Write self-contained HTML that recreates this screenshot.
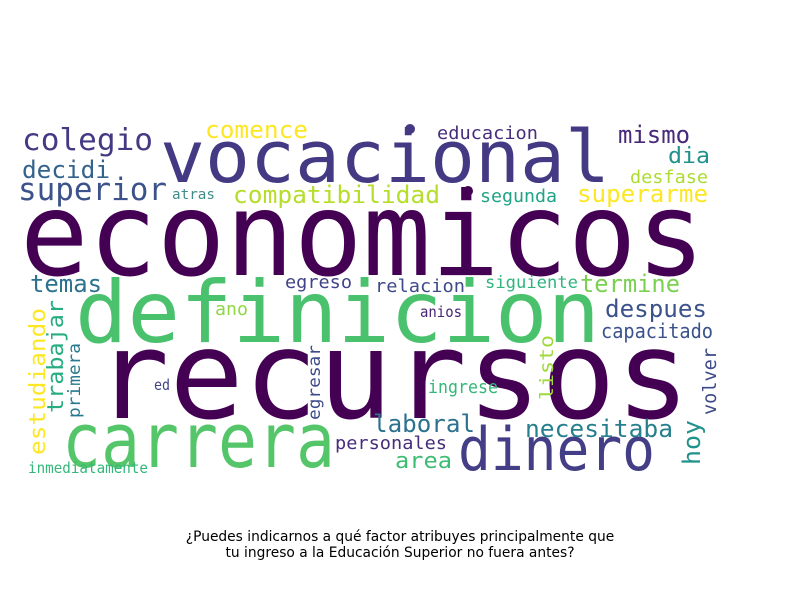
<!DOCTYPE html>
<html><head><meta charset="utf-8"><style>
html,body{margin:0;padding:0;background:#fff;}
svg{display:block;}
.w{font-family:"DejaVu Sans Mono","Liberation Mono",monospace;}
.t{font-family:"DejaVu Sans","Liberation Sans",sans-serif;font-size:13.8px;fill:#000;}
</style></head><body>
<svg width="800" height="600" viewBox="0 0 800 600" xmlns="http://www.w3.org/2000/svg">
<rect width="800" height="600" fill="#fff"/>
<g id="cloud"></g>
<text class="t" x="400" y="541" text-anchor="middle">¿Puedes indicarnos a qué factor atribuyes principalmente que</text>
<text class="t" x="400" y="557" text-anchor="middle">tu ingreso a la Educación Superior no fuera antes?</text>
</svg>
<script>
const words=["economicos","vocacional","definicion","recursos","carrera","dinero","colegio","superior","decidi","comence","atras","compatibilidad","educacion","mismo","dia","desfase","superarme","segunda","temas","egreso","relacion","siguiente","termine","despues","anios","ano","capacitado","ed","ingrese","laboral","necesitaba","personales","area","inmediatamente","estudiando","trabajar","primera","egresar","listo","volver","hoy"];
const fontSizes=[116,72,86,122,76,60,30,31,24,24,14,24,18,24,22,18,24,18,24,18,18,17,24,24,15,18,20,15,18,24,24,18,22,15,22,22,17,17,19,19,24];
const colors=["#440154","#443983","#4ac16d","#440154","#54c568","#433e85","#443a83","#3b528b","#33638d","#fde725","#3f8e8c","#b5de2b","#472d7b","#482878","#21918c","#addc30","#fde725","#20a386","#2c728e","#414487","#3e4a89","#2fb47c","#7ad151","#3b528b","#482475","#8fd744","#3b528b","#414487","#35b779","#2c728e","#277f8e","#472d7b","#3fbc73","#35b779","#fde725","#27ad81","#2a788e","#3e4989","#a0da39","#3e4a89","#21918c"];
// layout: [x, y, length, rotated]
const layout=[[20,275,685,0],[160,182,450,0],[75,342,525,0],[95,418,595,0],[62,467,273,0],[458,470,197,0],[22,150,131,0],[18,200,149,0],[22,178,88,0],[205,138,103,0],[172,199,43,0],[233,203,207,0],[437,139,101,0],[618,143,72,0],[668,163,42,0],[630,183,78,0],[577,202,131,0],[480,202,77,0],[30,292,72,0],[285,288,67,0],[375,292,90,0],[485,288,93,0],[580,292,100,0],[605,317,102,0],[420,317,42,0],[215,315,33,0],[601,338,112,0],[154,390,16,0],[428,393,70,0],[373,432,102,0],[525,437,148,0],[335,449,112,0],[395,468,57,0],[28,473,120,0],[45,455,147,1],[63,413,113,1],[80,418,75,1],[320,420,75,1],[553,400,65,1],[716,415,67,1],[700,465,45,1]];
const g=document.getElementById('cloud');
const NS="http://www.w3.org/2000/svg";
for(let i=0;i<words.length;i++){
  const [x,y,len,rot]=layout[i];
  const t=document.createElementNS(NS,'text');
  t.setAttribute('class','w');
  t.setAttribute('x',x);t.setAttribute('y',y);
  t.setAttribute('font-size',fontSizes[i]);
  t.setAttribute('fill',colors[i]);
  t.setAttribute('textLength',len);
  t.setAttribute('lengthAdjust','spacingAndGlyphs');
  if(rot)t.setAttribute('transform','rotate(-90 '+x+' '+y+')');
  t.textContent=words[i];
  
  
  g.appendChild(t);
}
const dots=[[410,129,5,"#443983"],[468,191,5,"#440154"]];
for(const d of dots){
  const c=document.createElementNS(NS,'circle');
  c.setAttribute('cx',d[0]);c.setAttribute('cy',d[1]);c.setAttribute('r',d[2]);c.setAttribute('fill',d[3]);
  
  
  g.appendChild(c);
}
</script>
</body></html>
